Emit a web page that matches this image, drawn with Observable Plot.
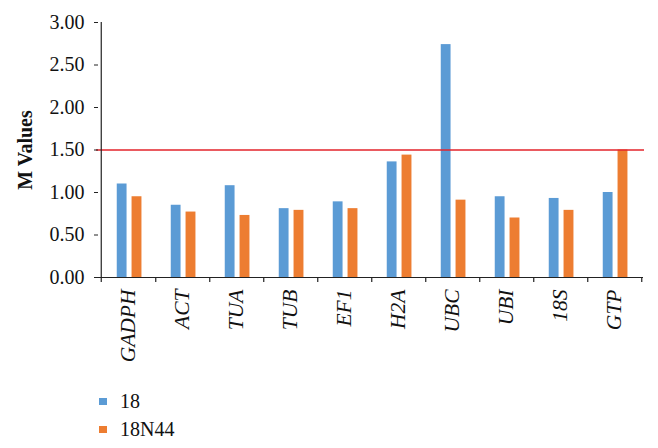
<!DOCTYPE html>
<html>
<head>
<meta charset="utf-8">
<script src="https://cdn.jsdelivr.net/npm/d3@7"></script>
<script src="https://cdn.jsdelivr.net/npm/@observablehq/plot@0.6"></script>
<style>
  html, body { margin: 0; padding: 0; background: #fff; }
  #wrap { position: relative; width: 658px; height: 448px; overflow: hidden; }
  #legend { position: absolute; left: 99px; top: 388px; font-family: "Liberation Serif", serif; font-size: 20px; color: #111; }
  .row { height: 27.5px; line-height: 27.5px; display: flex; align-items: center; }
  .sw { width: 8px; height: 7px; margin-right: 13px; }
</style>
</head>
<body>
<div id="wrap"><div id="legend"></div></div>
<script>
const genes = ["GADPH", "ACT", "TUA", "TUB", "EF1", "H2A", "UBC", "UBI", "18S", "GTP"];
const series = ["18", "18N44"];
const values18 = [1.10, 0.85, 1.08, 0.81, 0.89, 1.36, 2.74, 0.95, 0.93, 1.00];
const values18N44 = [0.95, 0.77, 0.73, 0.79, 0.81, 1.44, 0.91, 0.70, 0.79, 1.50];
const threshold = 1.5;
const yTicks = [0, 0.5, 1.0, 1.5, 2.0, 2.5, 3.0];
const colors = ["#5B9BD5", "#ED7D31"];

const data = [];
genes.forEach((g, i) => {
  data.push({gene: g, series: series[0], value: values18[i]});
  data.push({gene: g, series: series[1], value: values18N44[i]});
});

const width = 658, marginLeft = 98, marginRight = 15;
const bw = (width - marginLeft - marginRight) / genes.length;
const half = bw / 2;

const chart = Plot.plot({
  width,
  height: 380,
  marginLeft,
  marginRight,
  marginTop: 22,
  marginBottom: 103,
  style: {fontFamily: "Liberation Serif, serif", fontSize: "20px", color: "#111", background: "#fff"},
  x: {domain: genes, padding: 0, axis: null},
  y: {domain: [0, 3], axis: null},
  color: {domain: series, range: colors},
  marks: [
    Plot.barY(data.filter(d => d.series === series[0]), {x: "gene", y: "value", fill: "series", insetLeft: half - 11.5, insetRight: half + 1.2}),
    Plot.barY(data.filter(d => d.series === series[1]), {x: "gene", y: "value", fill: "series", insetLeft: half + 3.3, insetRight: half - 13.7}),
    Plot.ruleY([threshold], {stroke: "#e3232b", strokeWidth: 1.5, insetLeft: -2, insetRight: -1}),
    Plot.ruleY([0], {stroke: "#222", strokeWidth: 1.2}),
    Plot.ruleX([genes[0]], {dx: -half, y1: -0.06, y2: 3, stroke: "#222", strokeWidth: 1.2}),
    Plot.ruleX(genes, {dx: half, y1: -0.06, y2: 0, stroke: "#222", strokeWidth: 1.2}),
    Plot.axisY({ticks: yTicks, tickFormat: d => d.toFixed(2), tickSize: 4, tickPadding: 10, label: null, stroke: "#222"}),
    Plot.axisX({tickRotate: -90, tickSize: 0, tickPadding: 12, fontStyle: "italic", fontSize: 21.5, label: null}),
    Plot.text(["M Values"], {frameAnchor: "left", dx: -73, rotate: -90, fontWeight: "bold", fontSize: 20, textAnchor: "middle", lineAnchor: "middle"})
  ]
});
const wrap = document.getElementById("wrap");
wrap.insertBefore(chart, wrap.firstChild);

const legend = document.getElementById("legend");
series.forEach((s, i) => {
  const row = document.createElement("div");
  row.className = "row";
  const sw = document.createElement("span");
  sw.className = "sw";
  sw.style.background = colors[i];
  const t = document.createElement("span");
  t.textContent = s;
  row.appendChild(sw); row.appendChild(t);
  legend.appendChild(row);
});
</script>
</body>
</html>
